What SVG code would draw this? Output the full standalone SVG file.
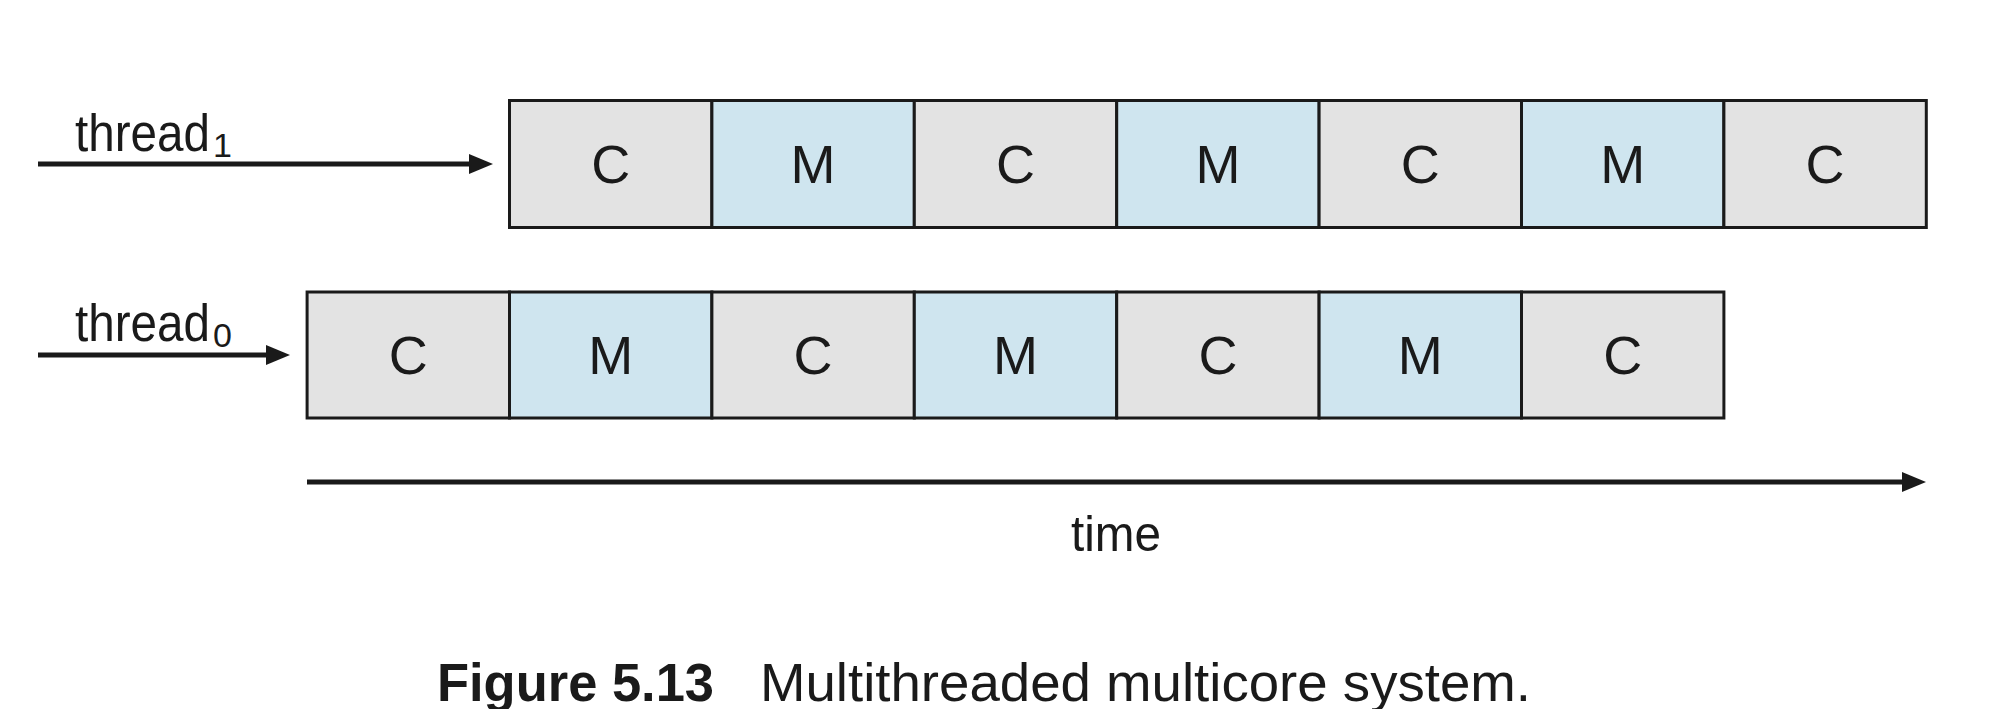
<svg xmlns="http://www.w3.org/2000/svg" width="2007" height="709" viewBox="0 0 2007 709">
  <style>
    .c { fill: #e3e3e3; stroke: #1a1a1a; stroke-width: 3; }
    .m { fill: #cfe5ef; stroke: #1a1a1a; stroke-width: 3; }
    .lbl { font-family: "Liberation Sans", Arial, sans-serif; font-size: 54px; fill: #1a1a1a; text-anchor: middle; }
    .th { font-family: "Liberation Sans", Arial, sans-serif; font-size: 51px; fill: #1a1a1a; }
    .sub { font-family: "Liberation Sans", Arial, sans-serif; font-size: 34px; fill: #1a1a1a; }
    .arr { stroke: #1a1a1a; stroke-width: 5; fill: none; }
    .cap { font-family: "Liberation Sans", Arial, sans-serif; fill: #1a1a1a; }
  </style>
  <defs>
    <marker id="ah" markerUnits="userSpaceOnUse" markerWidth="24" markerHeight="20" refX="12" refY="10" orient="auto">
      <path d="M0,0 L24,10 L0,20 z" fill="#1a1a1a"/>
    </marker>
  </defs>
  <rect width="2007" height="709" fill="#ffffff"/>

  <g id="connectors">
    <line class="arr" x1="38" y1="164" x2="481" y2="164" marker-end="url(#ah)"/>
    <line class="arr" x1="38" y1="355" x2="278" y2="355" marker-end="url(#ah)"/>
    <line class="arr" x1="307" y1="482" x2="1914" y2="482" marker-end="url(#ah)"/>
  </g>

  <g id="thread1-label">
    <text class="th" x="75" y="151" textLength="135" lengthAdjust="spacingAndGlyphs">thread</text>
    <text class="sub" x="213" y="157">1</text>
  </g>
  <g id="thread0-label">
    <text class="th" x="75" y="341" textLength="135" lengthAdjust="spacingAndGlyphs">thread</text>
    <text class="sub" x="213" y="347">0</text>
  </g>

  <g id="thread1-row">
    <g id="t1-c1"><rect class="c" x="509.5" y="100.5" width="202.4" height="127"/><text class="lbl" x="610.7" y="183">C</text></g>
    <g id="t1-m1"><rect class="m" x="711.9" y="100.5" width="202.4" height="127"/><text class="lbl" x="813.1" y="183">M</text></g>
    <g id="t1-c2"><rect class="c" x="914.3" y="100.5" width="202.4" height="127"/><text class="lbl" x="1015.5" y="183">C</text></g>
    <g id="t1-m2"><rect class="m" x="1116.7" y="100.5" width="202.4" height="127"/><text class="lbl" x="1217.9" y="183">M</text></g>
    <g id="t1-c3"><rect class="c" x="1319.1" y="100.5" width="202.4" height="127"/><text class="lbl" x="1420.3" y="183">C</text></g>
    <g id="t1-m3"><rect class="m" x="1521.5" y="100.5" width="202.4" height="127"/><text class="lbl" x="1622.7" y="183">M</text></g>
    <g id="t1-c4"><rect class="c" x="1723.9" y="100.5" width="202.4" height="127"/><text class="lbl" x="1825.1" y="183">C</text></g>
  </g>

  <g id="thread0-row">
    <g id="t0-c1"><rect class="c" x="307.1" y="292" width="202.4" height="126"/><text class="lbl" x="408.3" y="374">C</text></g>
    <g id="t0-m1"><rect class="m" x="509.5" y="292" width="202.4" height="126"/><text class="lbl" x="610.7" y="374">M</text></g>
    <g id="t0-c2"><rect class="c" x="711.9" y="292" width="202.4" height="126"/><text class="lbl" x="813.1" y="374">C</text></g>
    <g id="t0-m2"><rect class="m" x="914.3" y="292" width="202.4" height="126"/><text class="lbl" x="1015.5" y="374">M</text></g>
    <g id="t0-c3"><rect class="c" x="1116.7" y="292" width="202.4" height="126"/><text class="lbl" x="1217.9" y="374">C</text></g>
    <g id="t0-m3"><rect class="m" x="1319.1" y="292" width="202.4" height="126"/><text class="lbl" x="1420.3" y="374">M</text></g>
    <g id="t0-c4"><rect class="c" x="1521.5" y="292" width="202.4" height="126"/><text class="lbl" x="1622.7" y="374">C</text></g>
  </g>

  <g id="time-label">
    <text class="cap" x="1071" y="551" font-size="50" textLength="90" lengthAdjust="spacingAndGlyphs">time</text>
  </g>

  <g id="caption">
    <text class="cap" x="437" y="701" font-size="54" font-weight="bold" textLength="277" lengthAdjust="spacingAndGlyphs">Figure 5.13</text>
    <text class="cap" x="760" y="701" font-size="54" textLength="771" lengthAdjust="spacingAndGlyphs">Multithreaded multicore system.</text>
  </g>
</svg>
